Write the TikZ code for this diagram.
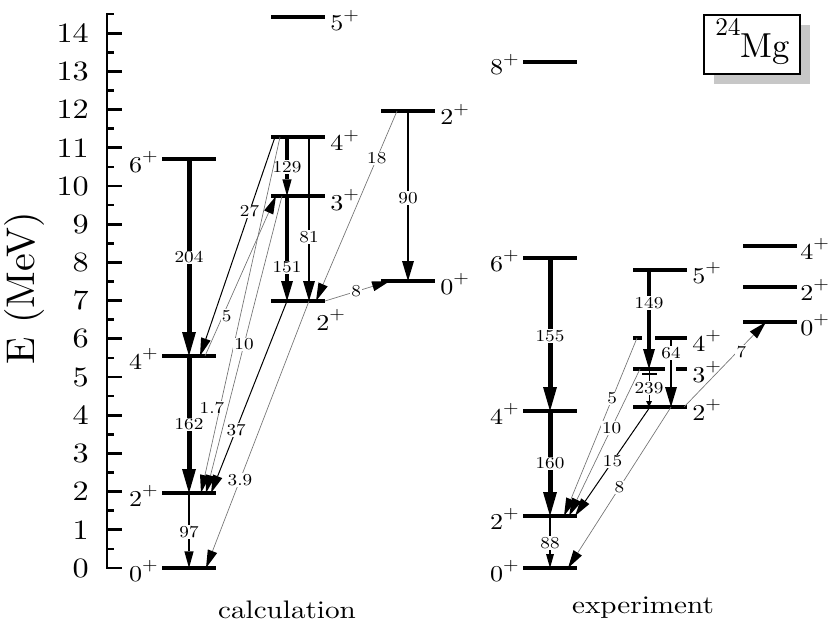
\documentclass[tikz,border=0pt]{standalone}
\usepackage{graphicx}
\usepackage{fontspec}
\setmainfont{lmroman10-regular.otf}[FakeStretch=1.15]
\newfontfamily\plainlm{lmroman10-regular.otf}
\usetikzlibrary{arrows.meta,calc,shadows}
\newcommand{\jp}[1]{#1\raisebox{0.48em}{\fontsize{13}{14}\selectfont +}}
\newcommand{\mklevel}[3]{\coordinate (#1) at (#2,#3);\draw[levelline] ($(#1)+(-27,0)$) -- ($(#1)+(27,0)$);}
\begin{document}
\begin{tikzpicture}[x=0.75pt,y=-0.75pt,
  levelline/.style={line width=2.7pt},
  ax/.style={line width=2pt},
  lab/.style={fill=white, inner sep=0.8pt, font=\fontsize{12.5}{14}\selectfont},
  jl/.style={font=\fontsize{17}{19}\selectfont, inner sep=0pt},
  tk/.style={font=\fontsize{21}{23}\selectfont, inner sep=0pt, anchor=east},
  tipA/.style={-{Triangle[length=18pt,width=10.5pt,line width=0pt]}},
  tipB/.style={-{Triangle[length=15pt,width=9pt,line width=0pt]}},
  tipD/.style={-{Triangle[length=12.5pt,width=7pt,line width=0pt]}},
  tipE/.style={-{Triangle[length=10.5pt,width=6pt,line width=0pt]}},
  tipC/.style={-{Triangle[length=13.5pt,width=7.5pt,line width=0pt,color=black]}},
  thinblack/.style={tipC, line width=0.75pt},
  thingray/.style={tipC, line width=0.5pt, draw=black!55},
]
\useasboundingbox (0,0) rectangle (830,624);

% axis
\draw[ax] (107,13) -- (107,569);
\foreach \e in {0,...,14}{
  \draw[ax] (107,{568-38.2*\e}) -- (122,{568-38.2*\e});
  \node[tk] (tick\e) at (89,{568-38.2*\e}) {\e};
}
\foreach \e in {0.5,1.5,...,14.5}{
  \draw[ax] (107,{568-38.2*\e}) -- (114,{568-38.2*\e});
}
\node[rotate=90, inner sep=0, font=\plainlm\fontsize{30}{32}\selectfont] (ylab) at (24,288) {E (MeV)};

% levels: calculation
\mklevel{a0}{189}{568}
\mklevel{a2}{189}{493}
\mklevel{a4}{189}{356}
\mklevel{a6}{189}{159}
\mklevel{b2}{298}{301}
\mklevel{b3}{298}{196}
\mklevel{b4}{298}{137}
\mklevel{b5}{298}{17}
\mklevel{c0}{408}{281}
\mklevel{c2}{408}{111}
% levels: experiment
\mklevel{d0}{550}{568}
\mklevel{d2}{550}{516}
\mklevel{d4}{550}{411}
\mklevel{d6}{550}{258}
\mklevel{d8}{550}{62}
\mklevel{e2}{660}{407}
\mklevel{e3}{660}{369}
\mklevel{e4}{660}{338}
\mklevel{e5}{660}{270}
\mklevel{f0}{770}{322}
\mklevel{f2}{770}{287}
\mklevel{f4}{770}{246}
\draw[white, line width=3.5pt] ($(e4)+(-18,0)$) -- ($(e4)+(-5,0)$);
\draw[white, line width=3.5pt] ($(e3)+(5,0)$) -- ($(e3)+(16,0)$);

% level labels
\node[jl, anchor=base east] (la0) at ($(a0)+(-31,13)$) {\jp{0}};
\node[jl, anchor=base east] (la2) at ($(a2)+(-31,13)$) {\jp{2}};
\node[jl, anchor=base east] (la4) at ($(a4)+(-31,13)$) {\jp{4}};
\node[jl, anchor=base east] (la6) at ($(a6)+(-31,13)$) {\jp{6}};
\node[jl, anchor=base west] (lb2) at ($(b2)+(18,29)$) {\jp{2}};
\node[jl, anchor=base west] (lb3) at ($(b3)+(32,14)$) {\jp{3}};
\node[jl, anchor=base west] (lb4) at ($(b4)+(32,14)$) {\jp{4}};
\node[jl, anchor=base west] (lb5) at ($(b5)+(32,14)$) {\jp{5}};
\node[jl, anchor=base west] (lc0) at ($(c0)+(32,13)$) {\jp{0}};
\node[jl, anchor=base west] (lc2) at ($(c2)+(32,14)$) {\jp{2}};
\node[jl, anchor=base east] (ld0) at ($(d0)+(-31,13)$) {\jp{0}};
\node[jl, anchor=base east] (ld2) at ($(d2)+(-31,13)$) {\jp{2}};
\node[jl, anchor=base east] (ld4) at ($(d4)+(-31,13)$) {\jp{4}};
\node[jl, anchor=base east] (ld6) at ($(d6)+(-31,13)$) {\jp{6}};
\node[jl, anchor=base east] (ld8) at ($(d8)+(-31,13)$) {\jp{8}};
\node[jl, anchor=base west] (le2) at ($(e2)+(32,13)$) {\jp{2}};
\node[jl, anchor=base west] (le3) at ($(e3)+(32,13)$) {\jp{3}};
\node[jl, anchor=base west] (le4) at ($(e4)+(32,13)$) {\jp{4}};
\node[jl, anchor=base west] (le5) at ($(e5)+(32,13)$) {\jp{5}};
\node[jl, anchor=base west] (lf0) at ($(f0)+(30,13)$) {\jp{0}};
\node[jl, anchor=base west] (lf2) at ($(f2)+(30,13)$) {\jp{2}};
\node[jl, anchor=base west] (lf4) at ($(f4)+(30,13)$) {\jp{4}};

% calculation transitions
\draw[line width=3.75pt, tipA] (a6) -- (a4) node[lab,pos=.5]{204};
\draw[line width=3.75pt, tipA] (a4) -- (a2) node[lab,pos=.5]{162};
\draw[line width=1.9pt, tipD] (a2) -- (a0) node[lab,pos=.52]{97};
\draw[line width=2.6pt, tipD] ($(b4)+(-11,0)$) -- ($(b3)+(-11,0)$) node[lab,pos=.51]{129};
\draw[line width=3.2pt, tipB] ($(b3)+(-11,0)$) -- ($(b2)+(-11,0)$) node[lab,pos=.68]{151};
\draw[line width=1.9pt, tipB] ($(b4)+(11,0)$) -- ($(b2)+(11,0)$) node[lab,pos=.61]{81};
\draw[line width=2.1pt, tipB] (c2) -- (c0) node[lab,pos=.51]{90};
\draw[thinblack] ($(b4)+(-23,0)$) -- ($(a4)+(11,0)$) node[lab,pos=.34]{27};
\draw[thingray] ($(a4)+(16,0)$) -- ($(b3)+(-22,0)$) node[lab,pos=.25,xshift=3pt]{5};
\draw[thingray] ($(b4)+(-18,0)$) -- ($(a2)+(12,0)$) node[lab,pos=.76,xshift=-6pt]{1.7};
\draw[thingray] ($(b3)+(-16,0)$) -- ($(a2)+(17,0)$) node[lab,pos=.5]{10};
\draw[thinblack] ($(b2)+(-11,0)$) -- ($(a2)+(22,0)$) node[lab,pos=.67]{37};
\draw[thingray] ($(b2)+(11,0)$) -- ($(a0)+(17,0)$) node[lab,pos=.67]{3.9};
\draw[thingray] ($(c2)+(-11,0)$) -- ($(b2)+(18,0)$) node[lab,pos=.25]{18};
\draw[thingray] ($(b2)+(27,0)$) -- ($(c0)+(-18,0)$) node[lab,pos=.48]{8};

% experiment transitions
\draw[line width=3.75pt, tipA] (d6) -- (d4) node[lab,pos=.51]{155};
\draw[line width=3.75pt, tipA] (d4) -- (d2) node[lab,pos=.5]{160};
\draw[line width=1.7pt, tipE] (d2) -- (d0) node[lab,pos=.52]{88};
\draw[line width=3pt, tipB] ($(e5)+(-11,0)$) -- ($(e3)+(-11,0)$) node[lab,pos=.33]{149};
\draw[line width=1.7pt, tipB] ($(e4)+(11,0)$) -- ($(e2)+(11,0)$) node[lab,pos=.22]{64};
\draw[line width=0.75pt, -{Triangle[length=4.5pt,width=4.5pt,line width=0pt]}] ($(e3)+(-11,0)$) -- ($(e2)+(-11,0)$) node[lab,pos=.5]{239};
\draw[line width=1.9pt] ($(e3)+(-18,5)$) -- ($(e3)+(-3,5)$);
\draw[thingray] ($(e4)+(-23,0)$) -- ($(d2)+(14,0)$) node[lab,pos=.34]{5};
\draw[thingray] ($(e3)+(-20,0)$) -- ($(d2)+(19,0)$) node[lab,pos=.40]{10};
\draw[thinblack] ($(e2)+(-10,0)$) -- ($(d2)+(25,0)$) node[lab,pos=.5]{15};
\draw[thingray] ($(e2)+(11,0)$) -- ($(d0)+(18,0)$) node[lab,pos=.5]{8};
\draw[thingray] ($(e2)+(24,0)$) -- ($(f0)+(-4,0)$) node[lab,pos=.65,xshift=3pt]{7};

% titles
\node[anchor=base, inner sep=0, font=\fontsize{19}{21}\selectfont] (calc) at (287,618) {calculation};
\node[anchor=base, inner sep=0, font=\fontsize{19}{21}\selectfont] (expt) at (643,613) {experiment};

% nucleus box
\node[draw, line width=1.5pt, fill=white, minimum width=72pt, minimum height=44.25pt, inner sep=0,
  drop shadow={shadow xshift=7.5pt, shadow yshift=-7.5pt, fill=black!22, opacity=1}] (mgbox) at (752,44.5) {};
\node[anchor=base, inner sep=0, font=\plainlm\fontsize{26}{28}\selectfont] (mgtext) at (752.5,58) {\raisebox{17pt}{\fontsize{19}{20}\selectfont 24}Mg};
\end{tikzpicture}
\end{document}
